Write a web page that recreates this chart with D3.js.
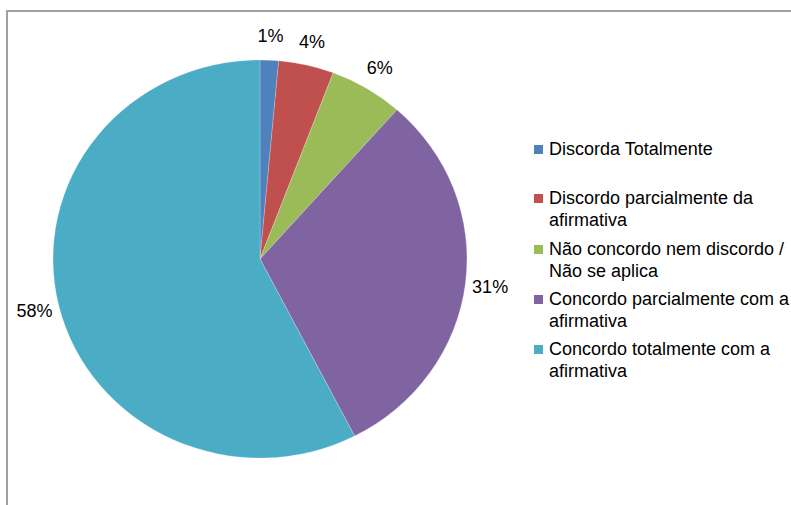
<!DOCTYPE html>
<html>
<head>
<meta charset="utf-8">
<script src="https://cdn.jsdelivr.net/npm/d3@7"></script>
<style>
  html, body { margin: 0; padding: 0; background: #fff; }
  svg { display: block; font-family: "Liberation Sans", Arial, sans-serif; }
</style>
</head>
<body>
<svg id="chart" width="791" height="505"></svg>
<script>
// Survey responses (counts per answer)
const categories = [
  "Discorda Totalmente",
  "Discordo parcialmente da afirmativa",
  "Não concordo nem discordo / Não se aplica",
  "Concordo parcialmente com a afirmativa",
  "Concordo totalmente com a afirmativa"
];
const legendLines = [
  ["Discorda Totalmente"],
  ["Discordo parcialmente da", "afirmativa"],
  ["Não concordo nem discordo /", "Não se aplica"],
  ["Concordo parcialmente com a", "afirmativa"],
  ["Concordo totalmente com a", "afirmativa"]
];
const counts = [2, 6, 8, 43, 80];
const colors = ["#4F81BD", "#C0504D", "#9BBB59", "#8064A2", "#4BACC6"];

const svg = d3.select("#chart");

// outer frame
svg.append("rect")
  .attr("x", 7).attr("y", 11)
  .attr("width", 800).attr("height", 520)
  .attr("fill", "none")
  .attr("stroke", "#A0A0A0")
  .attr("stroke-width", 2);

const cx = 260, cy = 259, r = 199, sx = 1.04;
const total = d3.sum(counts);
const pie = d3.pie().sort(null).value(d => d)(counts);
const arc = d3.arc().innerRadius(0).outerRadius(r);
const labelArc = d3.arc().innerRadius(223).outerRadius(223);

const g = svg.append("g").attr("transform", `translate(${cx},${cy}) scale(${sx},1)`);
g.selectAll("path")
  .data(pie)
  .join("path")
  .attr("d", arc)
  .attr("fill", (d, i) => colors[i])
  .attr("stroke", "rgba(255,255,255,0.35)")
  .attr("stroke-width", 0.6);

// percentage labels outside slices
svg.append("g")
  .selectAll("text")
  .data(pie)
  .join("text")
  .attr("x", d => cx + labelArc.centroid(d)[0] * sx)
  .attr("y", d => cy + labelArc.centroid(d)[1])
  .attr("text-anchor", "middle")
  .attr("dominant-baseline", "central")
  .attr("font-size", 18)
  .attr("fill", "#000")
  .text(d => Math.round(d.value / total * 100) + "%");

// legend
const legendY = [155, 204, 255, 305, 355];
const lg = svg.append("g");
legendLines.forEach((lines, i) => {
  lg.append("rect")
    .attr("x", 534).attr("y", legendY[i] - 10)
    .attr("width", 9).attr("height", 9)
    .attr("fill", colors[i]);
  const t = lg.append("text")
    .attr("x", 549).attr("y", legendY[i])
    .attr("font-size", 18)
    .attr("fill", "#000");
  lines.forEach((ln, j) => {
    t.append("tspan").attr("x", 549).attr("dy", j === 0 ? 0 : 21.5).text(ln);
  });
});
</script>
</body>
</html>
